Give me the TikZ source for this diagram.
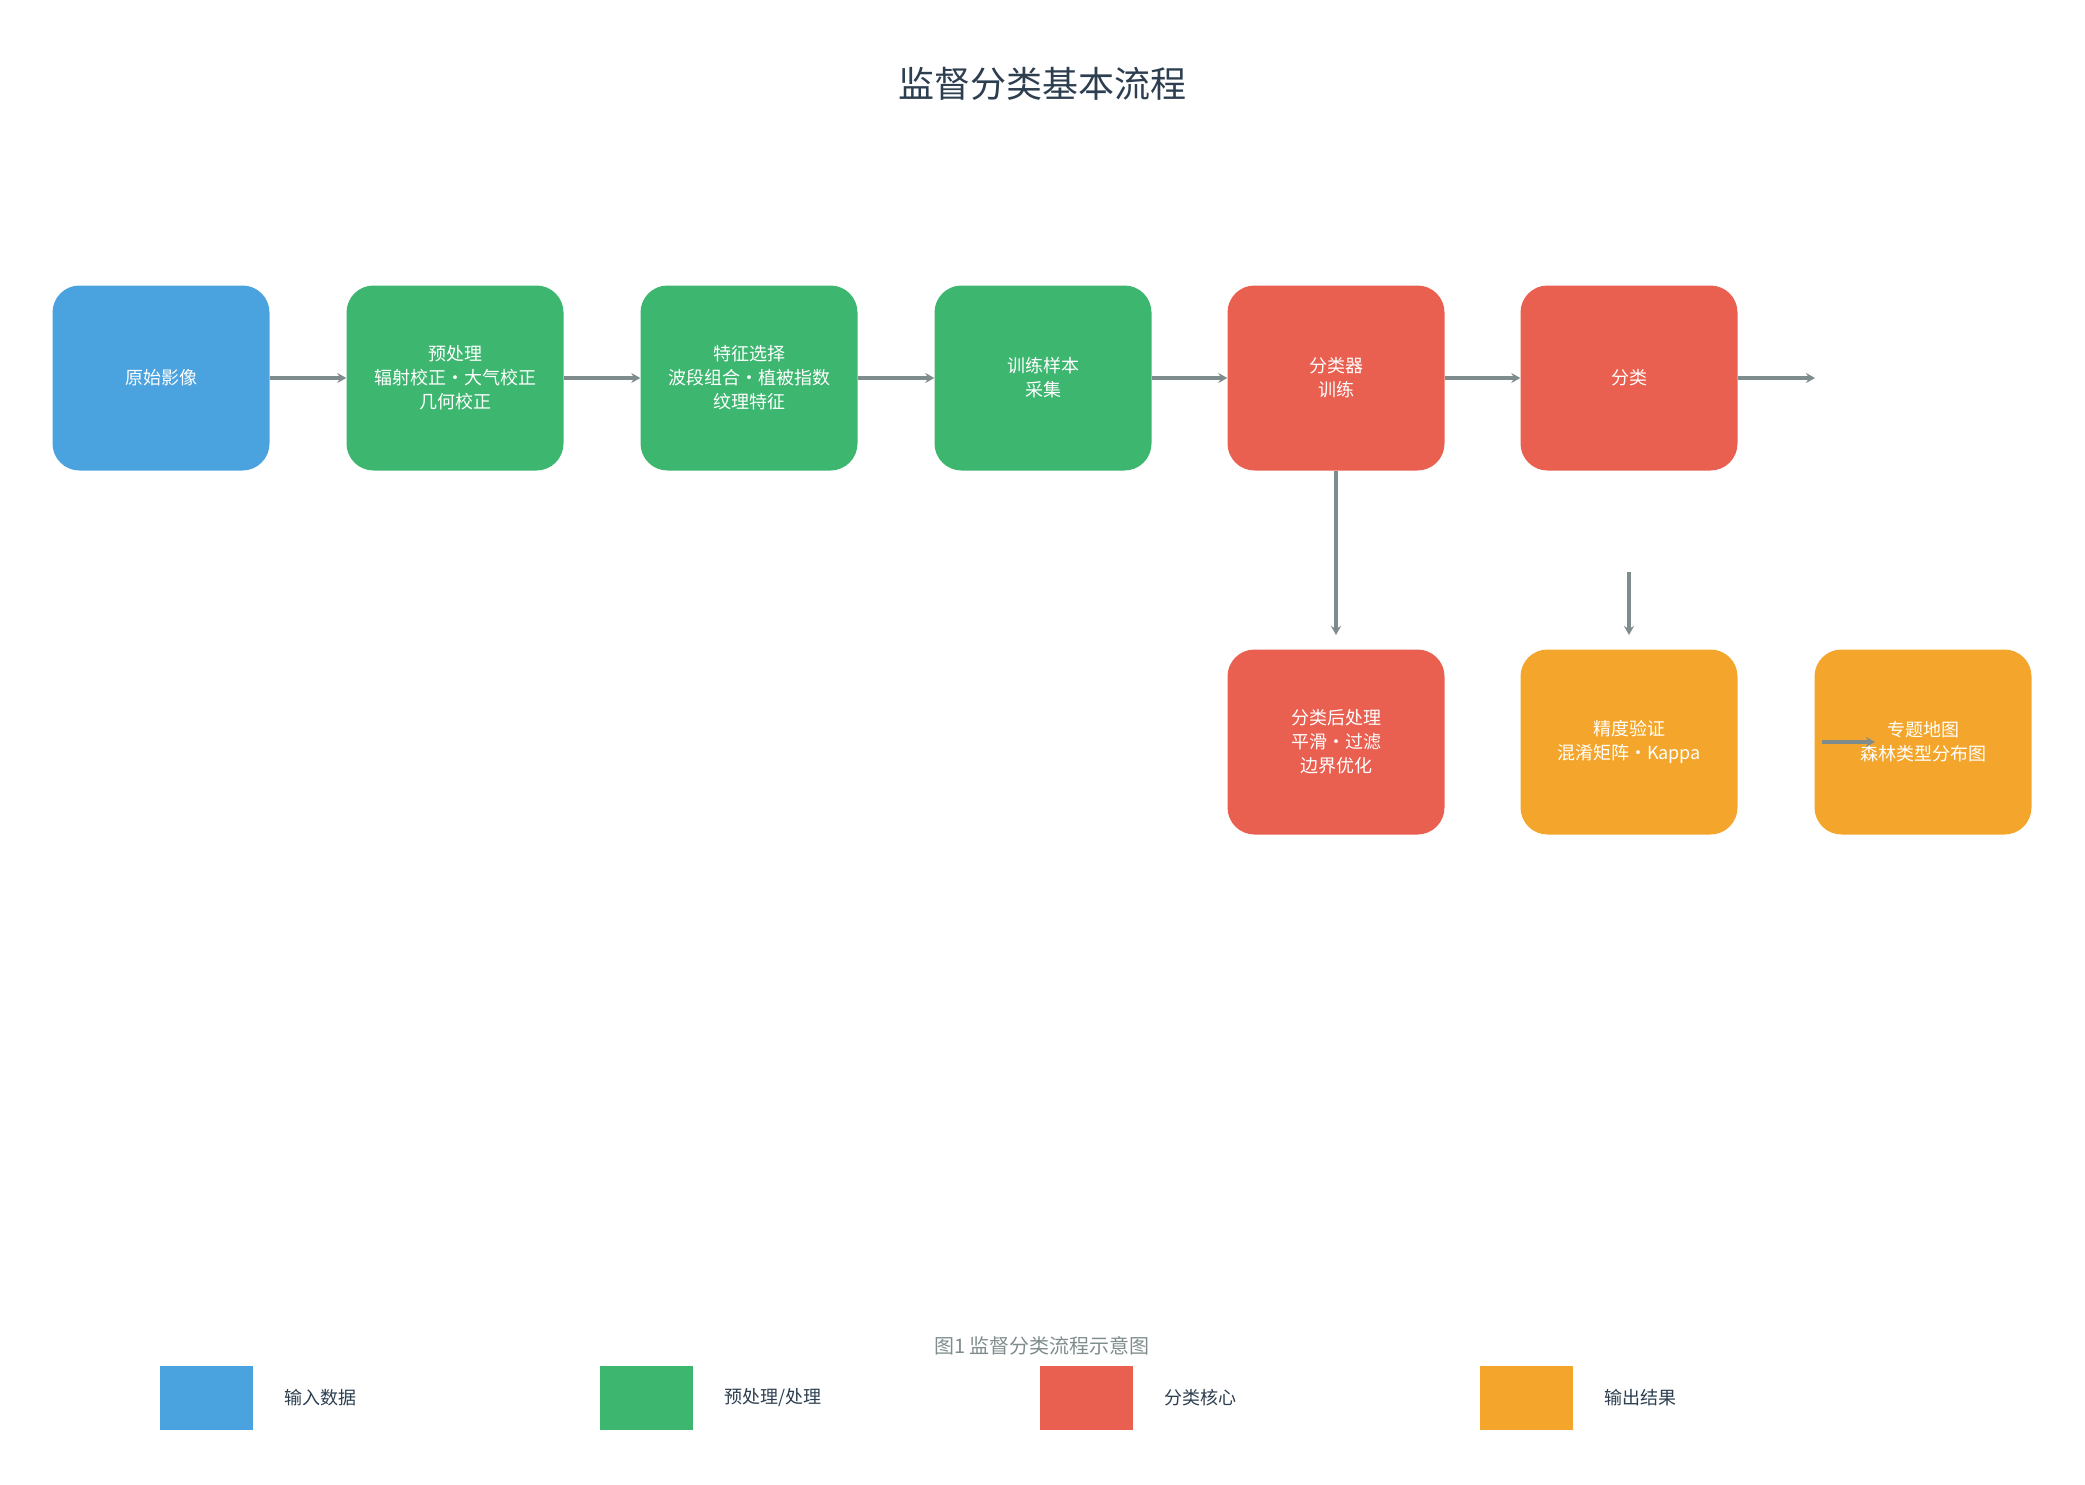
\documentclass[tikz,border=0pt]{standalone}
\usepackage{fontspec}
\setmainfont{Noto Sans CJK SC}
\begin{document}
\begin{tikzpicture}[x=1pt,y=-1pt,
 box/.style={rounded corners=27pt,minimum width=217pt,minimum height=185pt,text=white,align=center,font=\fontsize{18}{24}\selectfont,inner sep=0pt},
 arr/.style={draw=ag,line width=3.5pt,-{Stealth[length=9pt,width=10pt]}},
 leg/.style={minimum width=93pt,minimum height=64pt,inner sep=0pt},
 legt/.style={anchor=west,font=\fontsize{18}{22}\selectfont,text=tc}]
\usetikzlibrary{arrows.meta}
\definecolor{cb}{HTML}{4AA3DF}\definecolor{cg}{HTML}{3DB670}
\definecolor{cr}{HTML}{E95F50}\definecolor{co}{HTML}{F3A62B}
\definecolor{ag}{HTML}{7F8C8D}\definecolor{tc}{HTML}{2C3E50}
\useasboundingbox (0,0) rectangle (2085,1485);
\node[font=\fontsize{36}{40}\selectfont,text=tc] (title) at (1042,84) {监督分类基本流程};
\node[box,fill=cb] (a) at (161,378) {原始影像};
\node[box,fill=cg] (b) at (455,378) {预处理\\辐射校正·大气校正\\几何校正};
\node[box,fill=cg] (c) at (749,378) {特征选择\\波段组合·植被指数\\纹理特征};
\node[box,fill=cg] (d) at (1043,378) {训练样本\\采集};
\node[box,fill=cr] (e) at (1336,378) {分类器\\训练};
\node[box,fill=cr] (f) at (1629,378) {分类};
\node[box,fill=cr] (g) at (1336,742) {分类后处理\\平滑·过滤\\边界优化};
\node[box,fill=co] (h) at (1629,742) {精度验证\\混淆矩阵·Kappa};
\node[box,fill=co] (i) at (1923,742) {专题地图\\森林类型分布图};
\coordinate (fo) at (1815,378);
\coordinate (hs) at (1629,572);
\coordinate (ht) at (1629,635);
\coordinate (is) at (1822,742);
\coordinate (it) at (1875,742);
\coordinate (gt) at (1336,635);
\draw[arr] (a) -- (b); \draw[arr] (b) -- (c); \draw[arr] (c) -- (d);
\draw[arr] (d) -- (e); \draw[arr] (e) -- (f); \draw[arr] (f) -- (fo);
\draw[arr] (e) -- (gt); \draw[arr] (hs) -- (ht); \draw[arr] (is) -- (it);
\node[font=\fontsize{20}{24}\selectfont,text=ag] (cap) at (1042,1346) {图1 监督分类流程示意图};
\node[leg,fill=cb] (l1) at (206,1398) {}; \node[legt] (t1) at (281,1398) {输入数据};
\node[leg,fill=cg] (l2) at (646,1398) {}; \node[legt] (t2) at (721,1398) {预处理/处理};
\node[leg,fill=cr] (l3) at (1086,1398) {}; \node[legt] (t3) at (1161,1398) {分类核心};
\node[leg,fill=co] (l4) at (1526,1398) {}; \node[legt] (t4) at (1601,1398) {输出结果};
\end{tikzpicture}
\end{document}
